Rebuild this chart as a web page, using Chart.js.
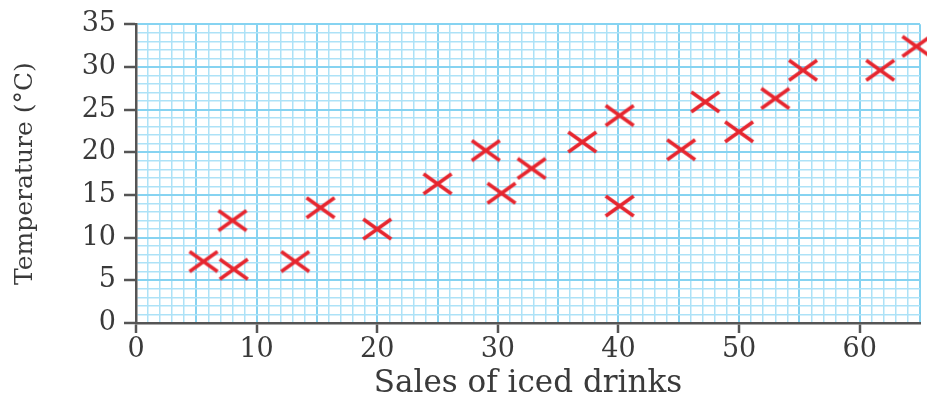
<!DOCTYPE html>
<html>
<head>
<meta charset="utf-8">
<script src="https://cdn.jsdelivr.net/npm/chart.js@4/dist/chart.umd.min.js"></script>
<style>
  body { margin: 0; background: #fff; }
  canvas { display: block; }
</style>
</head>
<body>
<canvas id="chart" width="927" height="398"></canvas>
<script>
// Sales of iced drinks (x) against temperature in degrees C (y)
let sales = [5.6, 8.0, 8.1, 13.2, 15.3, 20.0, 25.0, 29.0, 30.3, 32.8, 37.0, 40.1, 40.1, 45.2, 47.2, 50.0, 53.0, 55.3, 61.7, 64.7];
let temperature = [7.2, 12.0, 6.3, 7.2, 13.5, 11.0, 16.3, 20.2, 15.2, 18.1, 21.2, 24.3, 13.7, 20.3, 25.9, 22.4, 26.3, 29.6, 29.6, 32.4];

// labelled ticks
let xTickLabels = [0, 10, 20, 30, 40, 50, 60];
let yTickLabels = [0, 5, 10, 15, 20, 25, 30, 35];

let points = sales.map(function(s, i) { return {x: s, y: temperature[i]}; });

let fontFamily = "'DejaVu Serif', 'Liberation Serif', serif";
let textColor = '#3a3a3a';
let axisColor = '#555';
let majorGrid = '#86d3f1';
let minorGrid = '#ade2f7';

// red cross marker, a bit wider than tall like the printed one
let cross = document.createElement('canvas');
cross.width = 32;
cross.height = 24;
let cctx = cross.getContext('2d');
cctx.strokeStyle = '#e6262f';
cctx.lineWidth = 3.6;
cctx.beginPath();
cctx.moveTo(2, 2); cctx.lineTo(30, 22);
cctx.moveTo(30, 2); cctx.lineTo(2, 22);
cctx.stroke();

function gridColor(every) {
  return function(c) { return c.tick.value % every === 0 ? majorGrid : minorGrid; };
}
function gridWidth(every) {
  return function(c) { return c.tick.value % every === 0 ? 2 : 1.5; };
}

let ctx = document.getElementById('chart').getContext('2d');
let chart = new Chart(ctx, {
  type: 'scatter',
  data: {
    datasets: [{
      data: points,
      pointStyle: cross,
      clip: false
    }]
  },
  options: {
    responsive: false,
    animation: false,
    layout: { padding: { top: 22, right: 7, left: 0, bottom: 0 } },
    plugins: { legend: { display: false }, tooltip: { enabled: false } },
    scales: {
      x: {
        type: 'linear',
        min: 0,
        max: 65,
        afterFit: function(scale) { scale.height = 75; },
        ticks: {
          stepSize: 1,
          autoSkip: false,
          maxRotation: 0,
          padding: 1,
          color: textColor,
          font: { family: fontFamily, size: 27 },
          callback: function(v) { return xTickLabels.includes(v) ? String(v) : ''; }
        },
        grid: {
          color: gridColor(5),
          lineWidth: gridWidth(5),
          tickLength: 10,
          tickWidth: 2.5,
          tickColor: function(c) { return xTickLabels.includes(c.tick.value) ? axisColor : 'rgba(0,0,0,0)'; }
        },
        border: { display: true, color: axisColor, width: 2.5 },
        title: {
          display: true,
          text: 'Sales of iced drinks',
          color: textColor,
          padding: { top: 0, bottom: 0 },
          font: { family: fontFamily, size: 31, lineHeight: 0.88 }
        }
      },
      y: {
        type: 'linear',
        min: 0,
        max: 35,
        afterFit: function(scale) { scale.width = 136; },
        ticks: {
          stepSize: 1,
          autoSkip: false,
          padding: 8,
          color: textColor,
          font: { family: fontFamily, size: 27 },
          callback: function(v) { return yTickLabels.includes(v) ? String(v) : ''; }
        },
        grid: {
          color: gridColor(5),
          lineWidth: gridWidth(5),
          tickLength: 12,
          tickWidth: 2.5,
          tickColor: function(c) { return yTickLabels.includes(c.tick.value) ? axisColor : 'rgba(0,0,0,0)'; }
        },
        border: { display: true, color: axisColor, width: 2.5 },
        title: {
          display: true,
          text: 'Temperature (°C)',
          color: textColor,
          padding: { top: 10, bottom: 0 },
          font: { family: fontFamily, size: 25 }
        }
      }
    }
  }
});
</script>
</body>
</html>
